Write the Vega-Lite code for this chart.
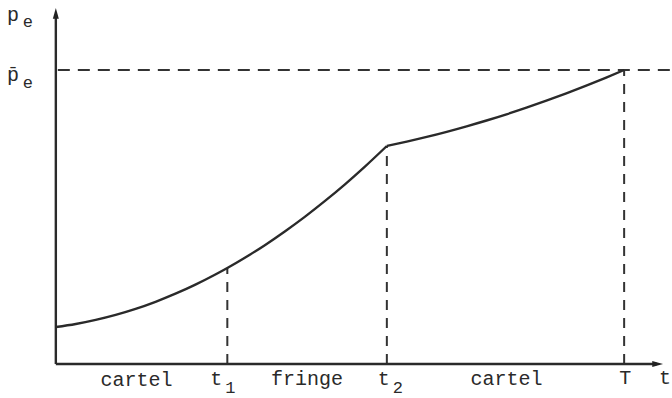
{
  "$schema": "https://vega.github.io/schema/vega-lite/v6.json",
  "width": 672,
  "height": 398,
  "autosize": {"type": "fit", "contains": "padding"},
  "padding": 0,
  "background": "white",
  "config": {"view": {"stroke": null}},
  "datasets": {
    "curve": [
      {"t": 0, "p": 37, "seg": "a"},
      {"t": 20, "p": 40.0, "seg": "a"},
      {"t": 40, "p": 44.1, "seg": "a"},
      {"t": 60, "p": 49.1, "seg": "a"},
      {"t": 80, "p": 55.1, "seg": "a"},
      {"t": 100, "p": 62.2, "seg": "a"},
      {"t": 120, "p": 70.3, "seg": "a"},
      {"t": 140, "p": 79.4, "seg": "a"},
      {"t": 160, "p": 89.5, "seg": "a"},
      {"t": 172, "p": 96.0, "seg": "a"},
      {"t": 190, "p": 106.5, "seg": "a"},
      {"t": 210, "p": 119.1, "seg": "a"},
      {"t": 230, "p": 132.8, "seg": "a"},
      {"t": 250, "p": 147.4, "seg": "a"},
      {"t": 270, "p": 163.1, "seg": "a"},
      {"t": 290, "p": 179.7, "seg": "a"},
      {"t": 310, "p": 197.4, "seg": "a"},
      {"t": 332, "p": 218, "seg": "a"},
      {"t": 332, "p": 218, "seg": "b"},
      {"t": 352, "p": 222.4, "seg": "b"},
      {"t": 372, "p": 227.1, "seg": "b"},
      {"t": 392, "p": 232.2, "seg": "b"},
      {"t": 412, "p": 237.7, "seg": "b"},
      {"t": 432, "p": 243.5, "seg": "b"},
      {"t": 452, "p": 249.7, "seg": "b"},
      {"t": 472, "p": 256.3, "seg": "b"},
      {"t": 492, "p": 263.3, "seg": "b"},
      {"t": 512, "p": 270.6, "seg": "b"},
      {"t": 532, "p": 278.3, "seg": "b"},
      {"t": 552, "p": 286.4, "seg": "b"},
      {"t": 570, "p": 294, "seg": "b"}
    ],
    "axes": [
      {"t": 0, "p": 0, "t2": 603, "p2": 0},
      {"t": 0, "p": 0, "t2": 0, "p2": 350}
    ],
    "drops": [
      {"t": 172, "p": 0, "p2": 96},
      {"t": 332, "p": 0, "p2": 218},
      {"t": 570, "p": 0, "p2": 294}
    ],
    "level": [
      {"t": 2, "t2": 616, "p": 294}
    ],
    "heads": [
      {"t": 0, "p": 350, "dir": "up"},
      {"t": 603, "p": 0, "dir": "right"}
    ],
    "labels": [
      {"t": 81, "p": -16, "label": "cartel"},
      {"t": 161, "p": -15, "label": "t"},
      {"t": 252, "p": -15, "label": "fringe"},
      {"t": 329, "p": -15, "label": "t"},
      {"t": 452, "p": -15, "label": "cartel"},
      {"t": 571, "p": -14, "label": "T"},
      {"t": 611, "p": -14, "label": "t"},
      {"t": -43, "p": 349, "label": "p"},
      {"t": -43, "p": 289, "label": "p̄"}
    ],
    "subs": [
      {"t": 175, "p": -24, "label": "1"},
      {"t": 343, "p": -24, "label": "2"},
      {"t": -28, "p": 342, "label": "e"},
      {"t": -28, "p": 281, "label": "e"}
    ]
  },
  "layer": [
    {
      "data": {"name": "level"},
      "mark": {"type": "rule", "strokeWidth": 2, "strokeDash": [12, 8], "color": "#333333"},
      "encoding": {
        "x": {"field": "t", "type": "quantitative", "scale": {"domain": [-56, 616], "nice": false, "zero": false}, "axis": null},
        "x2": {"field": "t2"},
        "y": {"field": "p", "type": "quantitative", "scale": {"domain": [-34, 364], "nice": false, "zero": false}, "axis": null}
      }
    },
    {
      "data": {"name": "drops"},
      "mark": {"type": "rule", "strokeWidth": 2, "strokeDash": [10, 8], "color": "#333333"},
      "encoding": {
        "x": {"field": "t", "type": "quantitative", "axis": null},
        "y": {"field": "p", "type": "quantitative", "axis": null},
        "y2": {"field": "p2"}
      }
    },
    {
      "data": {"name": "axes"},
      "mark": {"type": "rule", "strokeWidth": 2.4, "color": "#2a2a2a"},
      "encoding": {
        "x": {"field": "t", "type": "quantitative", "axis": null},
        "x2": {"field": "t2"},
        "y": {"field": "p", "type": "quantitative", "axis": null},
        "y2": {"field": "p2"}
      }
    },
    {
      "data": {"name": "curve"},
      "mark": {"type": "line", "interpolate": "monotone", "strokeWidth": 2.4, "color": "#2a2a2a"},
      "encoding": {
        "x": {"field": "t", "type": "quantitative", "axis": null},
        "y": {"field": "p", "type": "quantitative", "axis": null},
        "detail": {"field": "seg"}
      }
    },
    {
      "data": {"name": "heads"},
      "transform": [{"filter": "datum.dir === 'up'"}],
      "mark": {"type": "point", "filled": true, "opacity": 1, "size": 144, "color": "#222222", "shape": "M0,-1L0.5,0.8L-0.5,0.8Z"},
      "encoding": {
        "x": {"field": "t", "type": "quantitative", "axis": null},
        "y": {"field": "p", "type": "quantitative", "axis": null}
      }
    },
    {
      "data": {"name": "heads"},
      "transform": [{"filter": "datum.dir === 'right'"}],
      "mark": {"type": "point", "filled": true, "opacity": 1, "size": 144, "color": "#222222", "shape": "M1,0L-0.8,0.5L-0.8,-0.5Z"},
      "encoding": {
        "x": {"field": "t", "type": "quantitative", "axis": null},
        "y": {"field": "p", "type": "quantitative", "axis": null}
      }
    },
    {
      "data": {"name": "labels"},
      "mark": {"type": "text", "font": "Liberation Mono", "fontSize": 20, "color": "#2a2a2a", "align": "center", "baseline": "middle"},
      "encoding": {
        "x": {"field": "t", "type": "quantitative", "axis": null},
        "y": {"field": "p", "type": "quantitative", "axis": null},
        "text": {"field": "label"}
      }
    },
    {
      "data": {"name": "subs"},
      "mark": {"type": "text", "font": "Liberation Mono", "fontSize": 17, "color": "#2a2a2a", "align": "center", "baseline": "middle"},
      "encoding": {
        "x": {"field": "t", "type": "quantitative", "axis": null},
        "y": {"field": "p", "type": "quantitative", "axis": null},
        "text": {"field": "label"}
      }
    }
  ]
}
